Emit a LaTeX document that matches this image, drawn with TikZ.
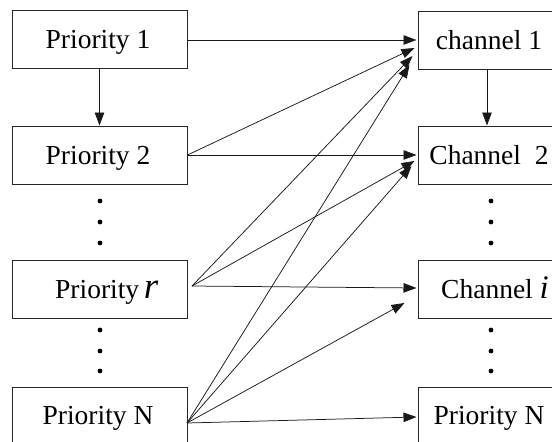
\documentclass[tikz,border=0pt]{standalone}
\usepackage{fontspec}
\setmainfont{Liberation Serif}
\usetikzlibrary{arrows.meta}
\begin{document}
\begin{tikzpicture}[x=1pt,y=-1pt,
  box/.style={draw=black!85,line width=1pt,minimum height=58pt,inner sep=0pt},
  lbox/.style={box,minimum width=175pt},
  rbox/.style={box,minimum width=138pt},
  txt/.style={font=\fontsize{27.5}{29}\selectfont,inner sep=0pt,anchor=base},
  con/.style={line width=0.75pt,black!90,-{Triangle[length=13pt,width=9.5pt]}},
  dotc/.style={circle,fill=black,inner sep=0pt,minimum size=4.8pt}]
\useasboundingbox (0,0) rectangle (552,442);
% left boxes
\node[lbox] (p1) at (99.5,39.5) {};
\node[lbox] (p2) at (99.5,155) {};
\node[lbox] (pr) at (99.5,289) {};
\node[lbox] (pn) at (99.5,416.5) {};
% right boxes
\node[rbox] (c1) at (487,40) {};
\node[rbox] (c2) at (487,155) {};
\node[rbox] (ci) at (487,289) {};
\node[rbox] (rn) at (487,416.5) {};
% texts
\node[txt] (tp1) at (98,48) {Priority 1};
\node[txt] (tp2) at (98,164) {Priority 2};
\node[txt,anchor=base west] (tpr) at (55,298) {Priority\,{\fontsize{37}{37}\selectfont\itshape r}};
\node[txt] (tpn) at (98,424) {Priority N};
\node[txt] (tc1) at (489,49) {channel 1};
\node[txt] (tc2) at (489,164) {Channel~~2};
\node[txt,anchor=base west] (tci) at (441,298) {Channel {\fontsize{33}{33}\selectfont\itshape i}};
\node[txt] (trn) at (489,424) {Priority N};
% dots
\foreach \y [count=\k] in {201,222,243,330,351,371}{
  \node[dotc] (ld\k) at (100,\y) {};
  \node[dotc] (rd\k) at (491,\y) {};
}
% start points
\coordinate (sr) at (192,286);
\coordinate (sn) at (187,423);
% vertical arrows
\draw[con] (p1.south) -- (p2.north);
\draw[con] (c1.south) -- (c2.north);
% priority 1
\draw[con] (p1.east |- c1.west) -- ([xshift=-1pt]c1.west);
% priority 2
\draw[con] (p2.east) -- ([xshift=-3pt,yshift=-8pt]c1.west);
\draw[con] (p2.east) -- ([xshift=-1pt]c2.west);
% priority r
\draw[con] (sr) -- ([xshift=-5pt,yshift=-16pt]c1.west);
\draw[con] (sr) -- ([xshift=-3pt,yshift=-6pt]c2.west);
\draw[con] (sr) -- ([xshift=-1pt,yshift=1pt]ci.west);
% priority N
\draw[con] (sn) -- ([xshift=-8pt,yshift=-25pt]c1.west);
\draw[con] (sn) -- ([xshift=-6pt,yshift=-11pt]c2.west);
\draw[con] (sn) -- ([xshift=-13pt,yshift=-14pt]ci.west);
\draw[con] (sn) -- ([xshift=-1pt,yshift=-0.5pt]rn.west);
\end{tikzpicture}
\end{document}
